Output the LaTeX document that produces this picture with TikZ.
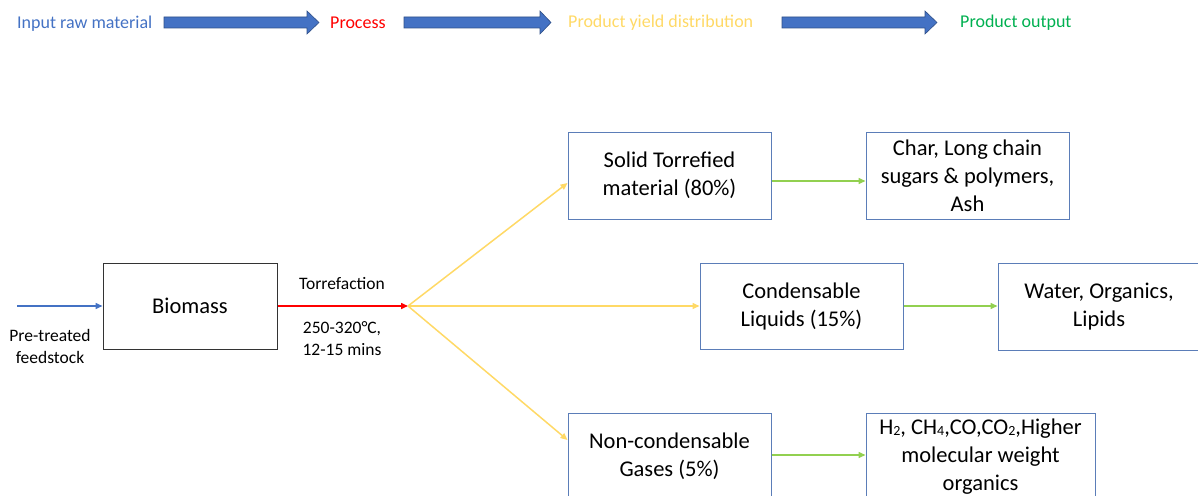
\documentclass[tikz,border=0pt]{standalone}
\usepackage{fontspec}
\setmainfont{Carlito}
\usetikzlibrary{arrows.meta}
\definecolor{hblue}{HTML}{4472C4}
\definecolor{hred}{HTML}{FF0000}
\definecolor{hyellow}{HTML}{FFD966}
\definecolor{hgreen}{HTML}{00B050}
\definecolor{lgreen}{HTML}{92D050}
\definecolor{boxblue}{HTML}{5B7DB8}
\tikzset{
  hdr/.style={font=\fontsize{18}{21}\selectfont, anchor=west, inner sep=0pt},
  blockarrow/.style={fill=hblue, draw=hblue!70!black, line width=0.6pt},
  prodbox/.style={draw=boxblue, line width=1pt, align=center, inner sep=0pt,
    font=\fontsize{22.5}{28}\selectfont},
  lbl/.style={font=\fontsize{17.5}{22}\selectfont, align=center, inner sep=0pt},
  tip/.style={-{Triangle[length=7pt,width=6pt]}, line width=1.5pt},
}
\newcommand{\lowsub}[1]{\raisebox{-0.15ex}{\fontsize{14}{14}\selectfont #1}}
\begin{document}
\begin{tikzpicture}[x=1pt,y=-1pt]
\useasboundingbox (0,0) rectangle (1198,495);
% header
\node[hdr, text=hblue] (h1) at (17,24) {Input raw material};
\node[hdr, text=hred] (h2) at (330,23) {Process};
\node[hdr, text=hyellow] (h3) at (568,23) {Product yield distribution};
\node[hdr, text=hgreen] (h4) at (960,23) {Product output};
\draw[blockarrow] (164,17) -- (307,17) -- (307,11) -- (319,22.5) -- (307,34) -- (307,28) -- (164,28) -- cycle;
\draw[blockarrow] (404,17) -- (540,17) -- (540,11) -- (551,22.5) -- (540,34) -- (540,28) -- (404,28) -- cycle;
\draw[blockarrow] (782,17) -- (925,17) -- (925,11) -- (937,22.5) -- (925,34) -- (925,28) -- (782,28) -- cycle;
% main nodes
\node[draw=black!80, line width=1pt, minimum width=174pt, minimum height=86pt,
  font=\fontsize{22.5}{28}\selectfont, inner sep=0pt] (bio) at (190,306) {Biomass};
\coordinate (in) at (17,306);
\node[lbl] (pre) at (50,346) {Pre-treated\\feedstock};
\coordinate (split) at (408,306);
\node[lbl] (torr) at (342,284) {Torrefaction};
\node[lbl] (cond) at (342,339) {250-320°C,\\12-15 mins};

\node[prodbox, minimum width=203pt, minimum height=87pt] (solid) at (669.5,175.5) {Solid Torrefied\\material (80\%)};
\node[prodbox, minimum width=203pt, minimum height=87pt] (char) at (967.5,175.5) {Char, Long chain\\sugars \& polymers,\\Ash};
\node[prodbox, minimum width=203pt, minimum height=86pt] (liq) at (801.5,306) {Condensable\\Liquids (15\%)};
\node[prodbox, minimum width=202pt, minimum height=87pt] (water) at (1099,306.5) {Water, Organics,\\Lipids};
\node[prodbox, minimum width=203pt, minimum height=87pt] (gas) at (669.5,456.5) {Non-condensable\\Gases (5\%)};
\node[prodbox, minimum width=229pt, minimum height=87pt] (h2box) at (980.5,456.5) {H\lowsub{2}, CH\lowsub{4},CO,CO\lowsub{2},Higher\\molecular weight\\organics};

% connectors
\draw[tip, hblue] (in) -- (bio.west);
\draw[tip, hred] (bio.east) -- (split);
\draw[tip, hyellow] (split) -- (solid.west |- 0,183);
\draw[tip, hyellow] (split) -- (liq.west);
\draw[tip, hyellow] (split) -- (gas.west |- 0,440);
\draw[tip, lgreen] (solid.east |- 0,181) -- (char.west |- 0,181);
\draw[tip, lgreen] (liq.east) -- (water.west |- 0,306);
\draw[tip, lgreen] (gas.east |- 0,455) -- (h2box.west |- 0,455);
\end{tikzpicture}
\end{document}
